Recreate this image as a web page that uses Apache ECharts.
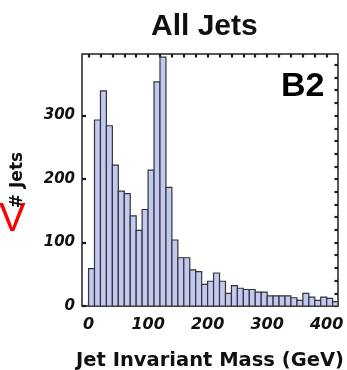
<!DOCTYPE html>
<html>
<head>
<meta charset="utf-8">
<script src="https://cdn.jsdelivr.net/npm/echarts@6/dist/echarts.min.js"></script>
<style>
  html, body { margin: 0; padding: 0; background: #fff; }
  #hist { width: 347px; height: 370px; }
</style>
</head>
<body>
<div id="hist"></div>
<script>
// bin lower edges (GeV) and counts per 10 GeV bin
let binStarts = [0, 10, 20, 30, 40, 50, 60, 70, 80, 90,
  100, 110, 120, 130, 140, 150, 160, 170, 180, 190,
  200, 210, 220, 230, 240, 250, 260, 270, 280, 290,
  300, 310, 320, 330, 340, 350, 360, 370, 380, 390,
  400, 410];
let counts = [59, 293, 339, 284, 222, 181, 177, 142, 119, 152,
  214, 353, 392, 187, 104, 76, 76, 57, 54, 34,
  39, 52, 39, 20, 32, 28, 26, 26, 22, 22,
  16, 16, 16, 16, 13, 9, 20, 14, 9, 14,
  12, 7];
let binWidth = 10;
let xLabels = [0, 100, 200, 300, 400];
let yLabels = [0, 100, 200, 300];
let xTicks = [0, 20, 40, 60, 80, 100, 120, 140, 160, 180, 200, 220, 240, 260, 280, 300, 320, 340, 360, 380, 400];
let yTicks = [0, 20, 40, 60, 80, 100, 120, 140, 160, 180, 200, 220, 240, 260, 280, 300, 320, 340, 360, 380];

let myChart = echarts.init(document.getElementById("hist"));

let data = binStarts.map((b, i) => [b, counts[i]]);

let tickFont = {
  fontFamily: "DejaVu Sans",
  fontWeight: "bold",
  fontStyle: "italic",
  color: "#111",
};

// draw each bin as a rect from its lower edge to lower edge + width
let renderItem = (params, api) => {
  let x0 = api.value(0);
  let v = api.value(1);
  let p0 = api.coord([x0, v]);
  let p1 = api.coord([x0 + binWidth, 0]);
  let shape = echarts.graphic.clipRectByRect(
    { x: p0[0], y: p0[1], width: p1[0] - p0[0], height: p1[1] - p0[1] },
    { x: params.coordSys.x, y: params.coordSys.y, width: params.coordSys.width, height: params.coordSys.height }
  );
  return shape && {
    type: "rect",
    shape: shape,
    style: { fill: "#c3c8ee", stroke: "#33333d", lineWidth: 1.2 },
  };
};

let tickStyle = { color: "#1a1a1a", width: 2.2 };
// axes sit on the frame, not at the other axis' zero
let noLine = { show: false, onZero: false };

let option = {
  animation: false,
  title: {
    text: "All Jets",
    left: 151,
    top: 12,
    padding: 0,
    textStyle: {
      fontFamily: "Liberation Sans",
      fontWeight: "bold",
      fontSize: 30,
      color: "#111",
    },
  },
  grid: {
    left: 82,
    right: 9,
    top: 54,
    bottom: 64,
    show: true,
    borderColor: "#222",
    borderWidth: 1.5,
    containLabel: false,
    outerBoundsMode: "none",
  },
  xAxis: [
    {
      type: "value",
      position: "bottom",
      min: -11,
      max: 419,
      name: "Jet Invariant Mass (GeV)",
      nameLocation: "middle",
      nameGap: 45,
      nameTextStyle: {
        fontFamily: "DejaVu Sans",
        fontWeight: "bold",
        fontSize: 19.5,
        color: "#111",
      },
      axisLine: noLine,
      splitLine: { show: false },
      axisTick: {
        show: true,
        inside: true,
        length: 3.5,
        customValues: xTicks,
        lineStyle: tickStyle,
      },
      axisLabel: Object.assign({ customValues: xLabels, fontSize: 16, margin: 11 }, tickFont),
    },
    {
      type: "value",
      position: "top",
      min: -11,
      max: 419,
      axisLine: noLine,
      axisLabel: { show: false },
      splitLine: { show: false },
      axisTick: {
        show: true,
        inside: true,
        length: 3.5,
        customValues: xTicks,
        lineStyle: tickStyle,
      },
    },
  ],
  yAxis: [
    {
      type: "value",
      position: "left",
      min: 0,
      max: 397,
      name: "# Jets",
      nameLocation: "middle",
      nameGap: 56,
      nameTextStyle: {
        fontFamily: "DejaVu Sans",
        fontWeight: "bold",
        fontSize: 17,
        color: "#111",
      },
      axisLine: noLine,
      splitLine: { show: false },
      axisTick: {
        show: true,
        inside: true,
        length: 4,
        customValues: yLabels,
        lineStyle: tickStyle,
      },
      axisLabel: Object.assign({ customValues: yLabels, fontSize: 15, margin: 7 }, tickFont),
    },
    {
      type: "value",
      position: "right",
      min: 0,
      max: 397,
      axisLine: noLine,
      axisLabel: { show: false },
      splitLine: { show: false },
      axisTick: {
        show: true,
        inside: true,
        length: 3.5,
        customValues: yTicks,
        lineStyle: tickStyle,
      },
    },
  ],
  series: [
    {
      type: "custom",
      renderItem: renderItem,
      xAxisIndex: 0,
      yAxisIndex: 0,
      encode: { x: 0, y: 1 },
      data: data,
    },
  ],
  graphic: [
    {
      type: "text",
      left: 281,
      top: 70,
      style: {
        text: "B2",
        fontFamily: "Liberation Sans",
        fontWeight: "bold",
        fontSize: 34,
        fill: "#000",
      },
    },
    {
      type: "text",
      left: -1,
      top: 200,
      style: {
        text: "V",
        fontFamily: "Liberation Sans",
        fontSize: 40,
        fill: "#ff0000",
      },
    },
  ],
};

myChart.setOption(option);
window.addEventListener("resize", () => {
  myChart.resize();
});
</script>
</body>
</html>
